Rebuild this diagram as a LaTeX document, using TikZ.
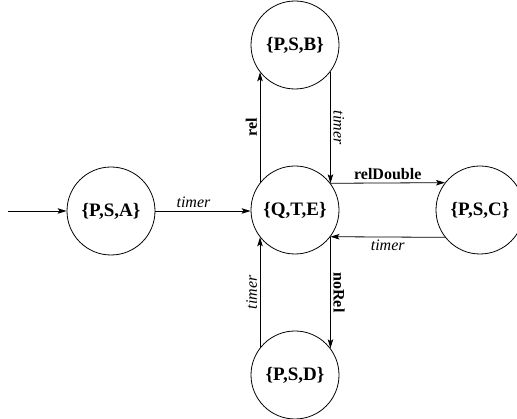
\documentclass[tikz,border=0pt]{standalone}
\usepackage{fontspec}
\setmainfont{Liberation Serif}
\usetikzlibrary{arrows.meta}
\tikzset{
  state/.style={draw, circle, minimum size=88pt, inner sep=0pt, line width=0.8pt,
    font=\fontsize{19}{21}\selectfont\bfseries},
  tr/.style={-{Stealth[length=9pt,width=5.5pt,inset=2pt]}, line width=0.8pt},
  lab/.style={font=\fontsize{16}{18}\selectfont\itshape, inner sep=2.5pt},
  blab/.style={font=\fontsize{16}{18}\selectfont\bfseries, inner sep=2.5pt}
}
\begin{document}
\begin{tikzpicture}[x=1pt,y=-1pt]
\useasboundingbox (0,0) rectangle (517,419);
\node[state] (psa) at (111,211) {\{P,S,A\}};
\node[state] (qte) at (295,210) {\{Q,T,E\}};
\node[state] (psb) at (295,45) {\{P,S,B\}};
\node[state] (psd) at (295,375) {\{P,S,D\}};
\node[state] (psc) at (480,210) {\{P,S,C\}};
\coordinate (start) at (8,211);
\draw[tr] (start) -- (psa.west);
\draw[tr] (psa.east) -- node[lab, above, pos=0.4] {timer} (psa.east -| qte.west);
\draw[tr] (qte.142.4) -- node[blab, rotate=90, above] {rel} (psb.-142.4);
\draw[tr] (psb.-37.6) -- node[lab, rotate=-90, above] {timer} (qte.37.6);
\draw[tr] (qte.37.6) -- node[blab, above] {relDouble} (psc.142.4);
\draw[tr] (psc.-142.4) -- node[lab, below] {timer} (qte.-37.6);
\draw[tr] (qte.-37.6) -- node[blab, rotate=-90, above] {noRel} (psd.37.6);
\draw[tr] (psd.142.4) -- node[lab, rotate=90, above] {timer} (qte.-142.4);
\end{tikzpicture}
\end{document}
